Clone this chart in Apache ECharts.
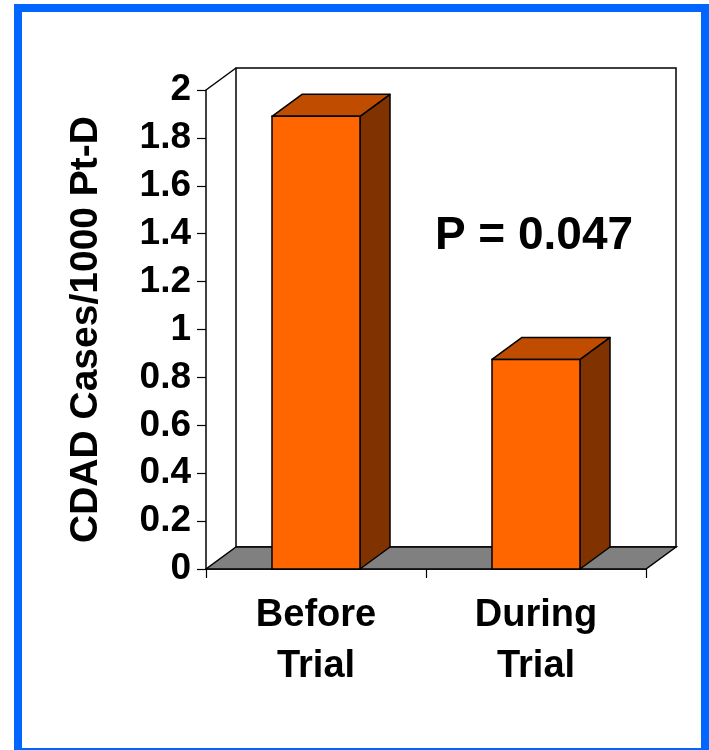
<!DOCTYPE html>
<html>
<head>
<meta charset="utf-8">
<script src="https://cdn.jsdelivr.net/npm/echarts@6/dist/echarts.min.js"></script>
<style>
  html, body { margin: 0; padding: 0; background: #ffffff; }
  #chart { width: 709px; height: 750px; }
</style>
</head>
<body>
<div id="chart"></div>
<script>
// ---- data ----
const categories = ['Before\nTrial', 'During\nTrial'];
const values = [1.89, 0.875];
const yTickLabels = ['0', '0.2', '0.4', '0.6', '0.8', '1', '1.2', '1.4', '1.6', '1.8', '2'];
const yAxisTitle = 'CDAD Cases/1000 Pt-D';
const annotationText = 'P = 0.047';

// ---- style ----
const FONT = "'Liberation Sans', Arial, Helvetica, sans-serif";
const DX = 30, DY = 22;          // depth offset of the 3D effect (px)
const EDGE = '#000000';
const EDGE_W = 1.5;

const chart = echarts.init(document.getElementById('chart'), null, { renderer: 'canvas' });

function renderWalls(params, api) {
  const cs = params.coordSys;
  const x0 = cs.x, x1 = cs.x + cs.width, y0 = cs.y, y1 = cs.y + cs.height;
  return {
    type: 'group',
    children: [
      { // back wall
        type: 'polygon',
        shape: { points: [[x0 + DX, y0 - DY], [x1 + DX, y0 - DY], [x1 + DX, y1 - DY], [x0 + DX, y1 - DY]] },
        style: { fill: '#ffffff', stroke: EDGE, lineWidth: EDGE_W }
      },
      { // left wall top edge
        type: 'line',
        shape: { x1: x0, y1: y0, x2: x0 + DX, y2: y0 - DY },
        style: { stroke: EDGE, lineWidth: EDGE_W }
      },
      { // floor
        type: 'polygon',
        shape: { points: [[x0, y1], [x1, y1], [x1 + DX, y1 - DY], [x0 + DX, y1 - DY]] },
        style: { fill: '#808080', stroke: EDGE, lineWidth: EDGE_W }
      }
    ]
  };
}

function renderBar(params, api) {
  const idx = api.value(0);
  const v = api.value(1);
  const top = api.coord([idx, v]);
  const base = api.coord([idx, 0]);
  const bw = api.size([1, 0])[0] * 0.4;
  const xl = top[0] - bw / 2, xr = top[0] + bw / 2;
  const yt = top[1], yb = base[1];
  return {
    type: 'group',
    children: [
      { // side face
        type: 'polygon',
        shape: { points: [[xr, yt], [xr + DX, yt - DY], [xr + DX, yb - DY], [xr, yb]] },
        style: { fill: '#803300', stroke: EDGE, lineWidth: EDGE_W, lineJoin: 'round' }
      },
      { // top face
        type: 'polygon',
        shape: { points: [[xl, yt], [xr, yt], [xr + DX, yt - DY], [xl + DX, yt - DY]] },
        style: { fill: '#C04C00', stroke: EDGE, lineWidth: EDGE_W, lineJoin: 'round' }
      },
      { // front face
        type: 'rect',
        shape: { x: xl, y: yt, width: bw, height: yb - yt },
        style: { fill: '#FF6600', stroke: EDGE, lineWidth: EDGE_W }
      }
    ]
  };
}

const option = {
  backgroundColor: '#ffffff',
  animation: false,
  grid: { left: 206, right: 63, top: 90, bottom: 181, containLabel: false },
  xAxis: {
    type: 'category',
    data: categories,
    boundaryGap: true,
    axisLine: { show: true, lineStyle: { color: '#000', width: EDGE_W } },
    axisTick: { show: true, length: 9, lineStyle: { color: '#000', width: 1.2 } },
    axisLabel: {
      color: '#000', fontFamily: FONT, fontWeight: 'bold', fontSize: 38,
      lineHeight: 51, margin: 21, interval: 0
    },
    splitLine: { show: false }
  },
  yAxis: {
    type: 'value',
    min: 0, max: 2, interval: 0.2,
    name: yAxisTitle,
    nameLocation: 'middle',
    nameRotate: 90,
    nameGap: 100,
    nameTextStyle: { color: '#000', fontFamily: FONT, fontWeight: 'bold', fontSize: 39 },
    axisLine: { show: true, lineStyle: { color: '#000', width: EDGE_W } },
    axisTick: { show: true, length: 9, lineStyle: { color: '#000', width: 1.2 } },
    axisLabel: {
      color: '#000', fontFamily: FONT, fontWeight: 'bold', fontSize: 37, margin: 15,
      formatter: function (v) { return yTickLabels[Math.round(v / 0.2)]; }
    },
    splitLine: { show: false }
  },
  series: [
    {
      type: 'custom',
      name: 'walls',
      renderItem: renderWalls,
      data: [[0, 0]],
      clip: false,
      silent: true,
      z: 1
    },
    {
      type: 'custom',
      name: 'CDAD',
      renderItem: renderBar,
      encode: { x: 0, y: 1 },
      data: values.map(function (v, i) { return [i, v]; }),
      clip: false,
      z: 3
    }
  ],
  graphic: [
    {
      type: 'rect',
      shape: { x: 18, y: 8, width: 687, height: 744 },
      style: { fill: 'none', stroke: '#0066FF', lineWidth: 8 },
      silent: true,
      z: 100
    },
    {
      type: 'text',
      x: 534, y: 236,
      style: {
        text: annotationText,
        fill: '#000', font: 'bold 46px ' + FONT,
        textAlign: 'center', textVerticalAlign: 'middle'
      },
      z: 100
    }
  ]
};

chart.setOption(option);
</script>
</body>
</html>
